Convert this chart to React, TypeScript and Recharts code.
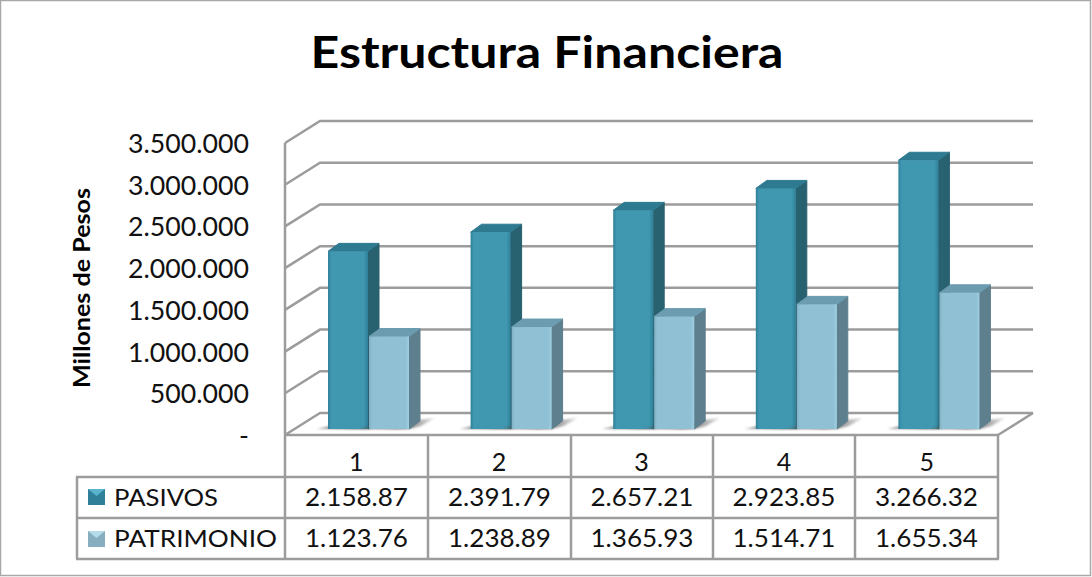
import React from "react";
import { ComposedChart, Bar, Line, XAxis, YAxis, CartesianGrid } from "recharts";

const categories = ["1", "2", "3", "4", "5"];
const pasivos = [2158870, 2391790, 2657210, 2923850, 3266320];
const patrimonio = [1123760, 1238890, 1365930, 1514710, 1655340];
const pasivosTable = ["2.158.87", "2.391.79", "2.657.21", "2.923.85", "3.266.32"];
const patrimonioTable = ["1.123.76", "1.238.89", "1.365.93", "1.514.71", "1.655.34"];
const yTicks = [0, 500000, 1000000, 1500000, 2000000, 2500000, 3000000, 3500000];
const yTickLabels = ["-", "500.000", "1.000.000", "1.500.000", "2.000.000", "2.500.000", "3.000.000", "3.500.000"];

const chartData = categories.map((name, i) => ({
  name,
  pasivos: pasivos[i],
  patrimonio: patrimonio[i],
}));

const FONT = "Lato, sans-serif";
const GRID = "#9c9c9c";
const TEXT = "#111";

// chart depth of the back wall vs the front edge
const WALL_DX = 35;
const WALL_DY = 22;
const FRONT_OFFSET = 12;
const BAR_DX = 11;
const BAR_DY = 8;

const tableCols = [285, 428, 571, 713, 855, 998];
const tableRows = [435, 477, 518, 559];

// draws a gridline on the back wall and its slant down the side wall
const WallLine = (props: any) => {
  const { x1, x2, y1 } = props;
  const left = x1 - FRONT_OFFSET;
  const right = x2 - FRONT_OFFSET;
  const backY = y1 - WALL_DY;
  return (
    <polyline
      points={`${left},${y1} ${left + WALL_DX},${backY} ${right + WALL_DX},${backY}`}
      fill="none"
      stroke={GRID}
      strokeWidth={2.5}
    />
  );
};

const makeBar3D = (grad: string, side: string, top: string) => (props: any) => {
  const { x, y, width, height } = props;
  const bottom = y + height;
  const r = x + width;
  return (
    <g>
      <polygon
        points={`${x - 11},${bottom} ${x + 6},${bottom - 4} ${r + 26},${bottom - 11} ${r + 12},${bottom - 3} ${r},${bottom}`}
        fill="url(#floorShadow)"
        filter="url(#soft)"
      />
      <polygon
        points={`${r},${y} ${r + BAR_DX},${y - BAR_DY} ${r + BAR_DX},${bottom - BAR_DY} ${r},${bottom}`}
        fill={side}
        stroke={side}
        strokeLinejoin="round"
      />
      <polygon
        points={`${x},${y} ${x + BAR_DX},${y - BAR_DY} ${r + BAR_DX},${y - BAR_DY} ${r},${y}`}
        fill={top}
        stroke={top}
        strokeLinejoin="round"
      />
      <rect x={x} y={y} width={width} height={height} fill={`url(#${grad})`} />
    </g>
  );
};

const Key = ({ x, y, light, dark }: { x: number; y: number; light: string; dark: string }) => (
  <g>
    <rect x={x} y={y} width={17} height={16} fill={dark} />
    <polygon points={`${x},${y} ${x + 17},${y} ${x + 8.5},${y + 7}`} fill={light} />
  </g>
);

const TableCell = ({ col, row, text }: { col: number; row: number; text: string }) => (
  <text
    x={(tableCols[col] + tableCols[col + 1]) / 2}
    y={tableRows[row] + 29}
    textAnchor="middle"
    fontFamily={FONT}
    fontSize={25}
    fill={TEXT}
    textLength={103}
    lengthAdjust="spacingAndGlyphs"
  >
    {text}
  </text>
);

const Overlay = () => (
  <g>
    <rect x={0.5} y={0.5} width={1090} height={575} fill="none" stroke="#a8a8a8" strokeWidth={1.5} />
    <text
      x={547}
      y={68}
      textAnchor="middle"
      fontFamily={FONT}
      fontWeight={700}
      fontSize={43}
      fill="#000"
      textLength={473}
      lengthAdjust="spacingAndGlyphs"
    >
      Estructura Financiera
    </text>
    <text
      x={90}
      y={288}
      transform="rotate(-90 90 288)"
      textAnchor="middle"
      fontFamily={FONT}
      fontWeight={700}
      fontSize={22}
      fill="#000"
      textLength={200}
      lengthAdjust="spacingAndGlyphs"
    >
      Millones de Pesos
    </text>

    {/* side wall edge and floor */}
    <line x1={285} y1={143} x2={285} y2={435} stroke={GRID} strokeWidth={2.5} />
    <line x1={998} y1={435} x2={1033} y2={413} stroke={GRID} strokeWidth={2.5} />

    {/* data table */}
    {tableCols.map((x) => (
      <line key={x} x1={x} y1={435} x2={x} y2={559} stroke={GRID} strokeWidth={2.5} />
    ))}
    <line x1={285} y1={435} x2={998} y2={435} stroke={GRID} strokeWidth={2.5} />
    {[477, 518, 559].map((y) => (
      <line key={y} x1={76} y1={y} x2={999} y2={y} stroke={GRID} strokeWidth={2.5} />
    ))}
    <line x1={77} y1={477} x2={77} y2={559} stroke={GRID} strokeWidth={2.5} />

    <Key x={88} y={489} light="#57b4cc" dark="#2f7f98" />
    <Key x={88} y={531} light="#b5dcea" dark="#86aebf" />
    <text x={114} y={506} fontFamily={FONT} fontSize={24} fill={TEXT} textLength={104} lengthAdjust="spacingAndGlyphs">
      PASIVOS
    </text>
    <text x={114} y={547} fontFamily={FONT} fontSize={24} fill={TEXT} textLength={163} lengthAdjust="spacingAndGlyphs">
      PATRIMONIO
    </text>

    {pasivosTable.map((t, i) => (
      <TableCell key={t} col={i} row={1} text={t} />
    ))}
    {patrimonioTable.map((t, i) => (
      <TableCell key={t} col={i} row={2} text={t} />
    ))}
  </g>
);

const pasivosBar = makeBar3D("pasivosFront", "#28616f", "#2e7a90");
const patrimonioBar = makeBar3D("patrimonioFront", "#5e7f8d", "#6b9cb0");

const App = () => {
  return (
    <div style={{ position: "absolute", left: 0, top: 0, width: 1092, height: 577, background: "#fff" }}>
      <ComposedChart
        width={1092}
        height={577}
        data={chartData}
        margin={{ top: 143, right: 82, bottom: 102, left: 0 }}
        barSize={40}
        barGap={1}
      >
        <defs>
          <linearGradient id="pasivosFront" x1="0" y1="0" x2="1" y2="0">
            <stop offset="0" stopColor="#2f7f98" />
            <stop offset="0.08" stopColor="#3f97b0" />
            <stop offset="0.9" stopColor="#3f97b0" />
            <stop offset="1" stopColor="#2f7f98" />
          </linearGradient>
          <linearGradient id="patrimonioFront" x1="0" y1="0" x2="1" y2="0">
            <stop offset="0" stopColor="#7fb0c4" />
            <stop offset="0.08" stopColor="#90c0d4" />
            <stop offset="0.92" stopColor="#90c0d4" />
            <stop offset="1" stopColor="#9fd0e2" />
          </linearGradient>
          <linearGradient id="floorShadow" x1="0" y1="0" x2="1" y2="0">
            <stop offset="0" stopColor="#666" stopOpacity={0.5} />
            <stop offset="0.5" stopColor="#222" stopOpacity={0.9} />
            <stop offset="1" stopColor="#777" stopOpacity={0.2} />
          </linearGradient>
          <filter id="soft" x="-20%" y="-50%" width="140%" height="200%">
            <feGaussianBlur stdDeviation="1" />
          </filter>
        </defs>
        <CartesianGrid yAxisId="wall" horizontal={WallLine} vertical={false} />
        <XAxis
          dataKey="name"
          height={40}
          axisLine={false}
          tickLine={false}
          tick={(p: any) => (
            <text x={p.x - FRONT_OFFSET} y={471} textAnchor="middle" fontFamily={FONT} fontSize={25} fill={TEXT}>
              {p.payload.value}
            </text>
          )}
        />
        <YAxis
          yAxisId="wall"
          width={297}
          domain={[0, 3500000]}
          ticks={yTicks}
          interval={0}
          axisLine={false}
          tickLine={false}
          tick={(p: any) => (
            <text x={249} y={p.y + 10} textAnchor="end" fontFamily={FONT} fontSize={26.7} fill={TEXT}>
              {yTickLabels[yTicks.indexOf(p.payload.value)]}
            </text>
          )}
        />
        {/* bars stand further back than the wall front, so they get their own scale */}
        <YAxis yAxisId="bars" hide domain={[-73000, 3476000]} />
        {/* invisible, only keeps the wall axis alive so its ticks get drawn */}
        <Line yAxisId="wall" dataKey="pasivos" stroke="none" dot={false} activeDot={false} isAnimationActive={false} />
        <Bar yAxisId="bars" dataKey="pasivos" shape={pasivosBar} isAnimationActive={false} />
        <Bar yAxisId="bars" dataKey="patrimonio" shape={patrimonioBar} isAnimationActive={false} />
        <Overlay />
      </ComposedChart>
    </div>
  );
};

export default App;
